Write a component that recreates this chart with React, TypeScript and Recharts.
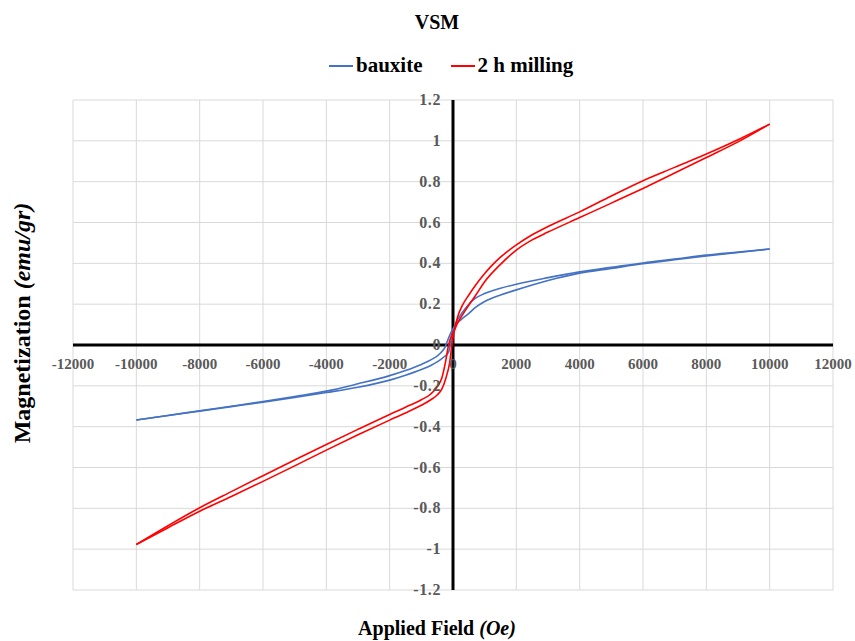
import React from "react";
import { CartesianGrid, Legend, Line, LineChart, ReferenceLine, XAxis, YAxis } from "recharts";

// VSM hysteresis loops
const X_TICKS = [-12000, -10000, -8000, -6000, -4000, -2000, 0, 2000, 4000, 6000, 8000, 10000, 12000];
const Y_TICKS = [-1.2, -1, -0.8, -0.6, -0.4, -0.2, 0, 0.2, 0.4, 0.6, 0.8, 1, 1.2];

// bauxite: branch that is upper for H > 0 (lower for H < 0)
const bxAField = [-10000, -9000, -8000, -7000, -6000, -5000, -4000, -3000, -2000, -1500, -1000, -700, -300, -140, -50, 50, 150, 300, 500, 700, 1000, 1500, 2000, 3000, 4000, 5000, 6000, 7000, 8000, 9000, 10000];
const bxAMag = [-0.367, -0.345, -0.324, -0.302, -0.28, -0.257, -0.233, -0.207, -0.172, -0.148, -0.12, -0.1, -0.06, -0.035, 0.03, 0.092, 0.125, 0.16, 0.2, 0.228, 0.252, 0.278, 0.298, 0.33, 0.358, 0.38, 0.402, 0.421, 0.44, 0.455, 0.47];
// bauxite: branch that is lower for H > 0 (upper for H < 0)
const bxBField = [-10000, -9000, -8000, -7000, -6000, -5000, -4000, -3000, -2000, -1500, -1000, -700, -400, -250, -150, -50, 50, 150, 300, 500, 700, 1000, 1500, 2000, 3000, 4000, 5000, 6000, 7000, 8000, 9000, 10000];
const bxBMag = [-0.367, -0.345, -0.322, -0.3, -0.277, -0.252, -0.226, -0.19, -0.15, -0.125, -0.095, -0.073, -0.04, -0.01, 0.03, 0.065, 0.092, 0.11, 0.13, 0.155, 0.183, 0.213, 0.245, 0.27, 0.316, 0.352, 0.375, 0.398, 0.418, 0.436, 0.453, 0.47];

// 2 h milling: branch that is upper for H > 0 (lower for H < 0)
const mlAField = [-10000, -9000, -8000, -7000, -6000, -5000, -4000, -3000, -2000, -1500, -1000, -700, -500, -350, -220, -110, -35, 40, 150, 300, 500, 700, 1000, 1200, 1500, 2000, 2500, 3000, 4000, 5000, 6000, 7000, 8000, 9000, 10000];
const mlAMag = [-0.977, -0.895, -0.814, -0.742, -0.668, -0.592, -0.515, -0.44, -0.368, -0.333, -0.295, -0.268, -0.245, -0.215, -0.16, -0.09, 0, 0.07, 0.14, 0.195, 0.245, 0.29, 0.35, 0.385, 0.43, 0.49, 0.54, 0.58, 0.652, 0.73, 0.805, 0.87, 0.935, 1.005, 1.082];
// 2 h milling: branch that is lower for H > 0 (upper for H < 0)
const mlBField = [-10000, -9000, -8000, -7000, -6000, -5000, -4000, -3000, -2000, -1500, -1000, -700, -500, -350, -245, -140, -50, 40, 120, 250, 500, 700, 1000, 1500, 2000, 2500, 3000, 4000, 5000, 6000, 7000, 8000, 9000, 10000];
const mlBMag = [-0.977, -0.885, -0.797, -0.718, -0.64, -0.563, -0.487, -0.413, -0.34, -0.305, -0.268, -0.24, -0.205, -0.16, -0.09, 0, 0.045, 0.07, 0.1, 0.135, 0.195, 0.24, 0.31, 0.395, 0.465, 0.515, 0.553, 0.624, 0.695, 0.767, 0.842, 0.918, 0.995, 1.082];

const zip = (xs: number[], ys: number[]) => xs.map((x, i) => ({ x, y: ys[i] }));

const SERIES = [
  { key: "bxA", name: "bauxite", color: "#4472C4", data: zip(bxAField, bxAMag), legend: true },
  { key: "bxB", name: "bauxite", color: "#4472C4", data: zip(bxBField, bxBMag), legend: false },
  { key: "mlA", name: "2 h milling", color: "#FF0000", data: zip(mlAField, mlAMag), legend: true },
  { key: "mlB", name: "2 h milling", color: "#FF0000", data: zip(mlBField, mlBMag), legend: false },
];

const W = 855;
const H = 641;
const M = { top: 100, right: 22, bottom: 50, left: 72 };
const X_AXIS_H = 1;
const Y_AXIS_W = 1;
// domains are symmetric, so the zero lines sit in the middle of the plot
const PLOT_L = M.left + Y_AXIS_W;
const PLOT_B = H - M.bottom - X_AXIS_H;
const ZERO_X = PLOT_L + (W - M.right - PLOT_L) / 2;
const ZERO_Y = M.top + (PLOT_B - M.top) / 2;

const SERIF = '"Times New Roman", "Liberation Serif", serif';
const TICK_COLOR = "#595959";

const fmtY = (v: number) => String(Number(v.toFixed(1)));

const XTick = ({ x, payload }: any) => (
  <text x={x} y={ZERO_Y + 24} textAnchor="middle" fill={TICK_COLOR} fontSize={15} fontWeight="bold" fontFamily={SERIF}>
    {payload.value}
  </text>
);

const YTick = ({ y, payload }: any) => (
  <text x={ZERO_X - 12} y={y + 5} textAnchor="end" fill={TICK_COLOR} fontSize={16} fontWeight="bold" fontFamily={SERIF} letterSpacing={0.6}>
    {fmtY(payload.value)}
  </text>
);

const LegendBox = () => (
  <div style={{ display: "flex", alignItems: "center", marginLeft: 329, fontFamily: SERIF, fontWeight: "bold", fontSize: 21 }}>
    {SERIES.filter((s) => s.legend).map((s) => (
      <div key={s.key} style={{ display: "flex", alignItems: "center", marginRight: 28 }}>
        <span style={{ display: "inline-block", width: 24, height: 2, background: s.color, marginRight: 3 }} />
        <span>{s.name}</span>
      </div>
    ))}
  </div>
);

export default function App() {
  return (
    <div style={{ position: "absolute", left: 0, top: 0, width: W, height: H, background: "#fff", fontFamily: SERIF }}>
      <div style={{ position: "absolute", left: 437, top: 22, transform: "translate(-50%, -50%)", fontSize: 20, fontWeight: "bold", whiteSpace: "nowrap" }}>
        VSM
      </div>
      <LineChart width={W} height={H} margin={M}>
        <CartesianGrid stroke="#d9d9d9" strokeWidth={1} />
        <XAxis
          type="number"
          dataKey="x"
          domain={[-12000, 12000]}
          ticks={X_TICKS}
          interval={0}
          height={X_AXIS_H}
          axisLine={false}
          tickLine={false}
          tick={(p: any) => <XTick {...p} />}
        />
        <YAxis
          type="number"
          domain={[-1.2, 1.2]}
          ticks={Y_TICKS}
          interval={0}
          width={Y_AXIS_W}
          axisLine={false}
          tickLine={false}
          tick={(p: any) => <YTick {...p} />}
        />
        <ReferenceLine x={0} stroke="#000" strokeWidth={3} />
        <ReferenceLine y={0} stroke="#000" strokeWidth={3} />
        <Legend verticalAlign="middle" wrapperStyle={{ top: 53, left: 0, width: W }} content={<LegendBox />} />
        {SERIES.map((s) => (
          <Line
            key={s.key}
            data={s.data}
            dataKey="y"
            name={s.name}
            type="monotone"
            stroke={s.color}
            strokeWidth={1.6}
            dot={false}
            isAnimationActive={false}
          />
        ))}
      </LineChart>
      <div style={{ position: "absolute", left: 437, top: 628, transform: "translate(-50%, -50%)", fontSize: 20, fontWeight: "bold", whiteSpace: "nowrap" }}>
        Applied Field <i>(Oe)</i>
      </div>
      <div
        style={{
          position: "absolute",
          left: 22,
          top: 323,
          transform: "translate(-50%, -50%) rotate(-90deg)",
          fontSize: 24,
          fontWeight: "bold",
          whiteSpace: "nowrap",
        }}
      >
        Magnetization <i>(emu/gr)</i>
      </div>
    </div>
  );
}
